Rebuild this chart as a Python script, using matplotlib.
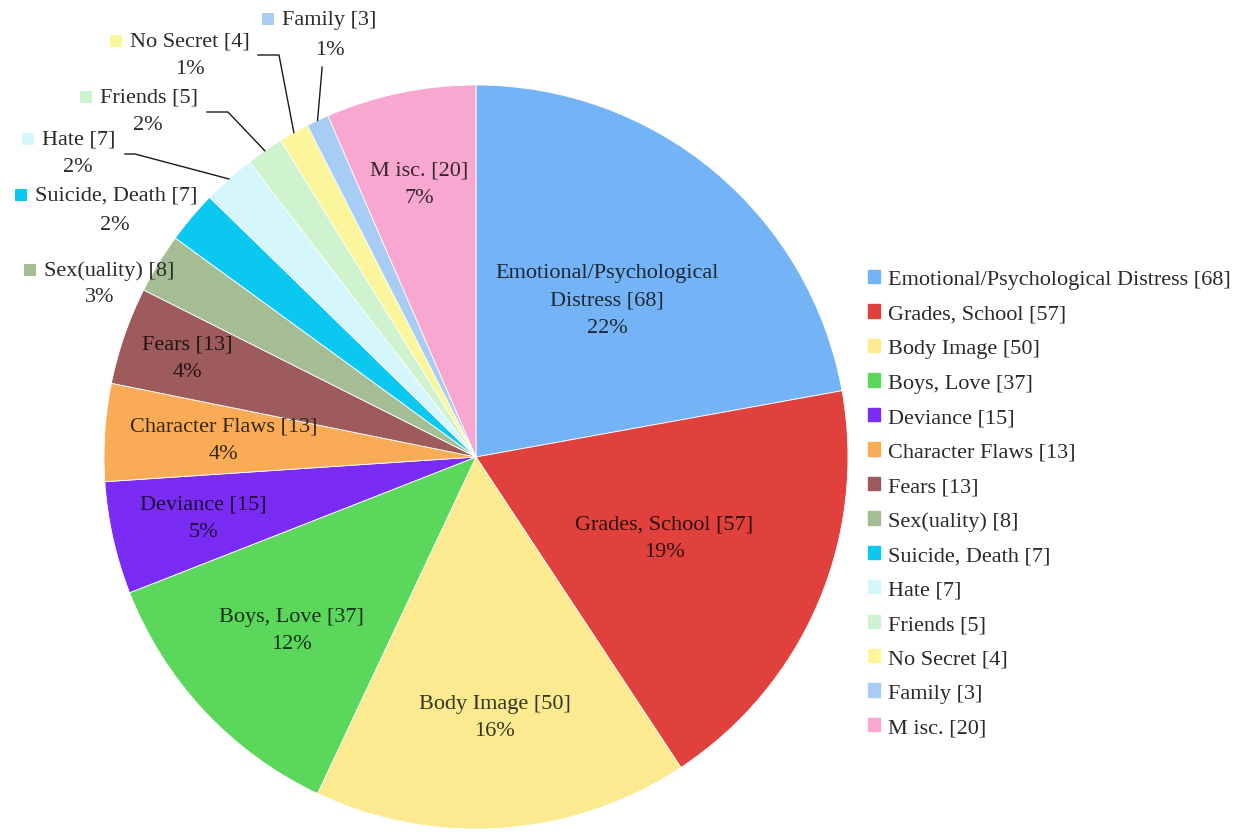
import numpy as np
import matplotlib
matplotlib.use("Agg")
import matplotlib.pyplot as plt
from matplotlib.colors import to_rgb
from matplotlib.patches import Rectangle

plt.rcParams['font.family'] = ['Liberation Serif', 'DejaVu Serif']

categories = ["Emotional/Psychological Distress", "Grades, School", "Body Image",
              "Boys, Love", "Deviance", "Character Flaws", "Fears", "Sex(uality)",
              "Suicide, Death", "Hate", "Friends", "No Secret", "Family", "Misc."]
counts = [68, 57, 50, 37, 15, 13, 13, 8, 7, 7, 5, 4, 3, 20]
colors = ["#74b4f6", "#e0413d", "#fbea8f", "#5bd85c", "#7a2cf5", "#f9ab56",
          "#9e5b5c", "#a5bd95", "#0bc8f0", "#d5f6fa", "#cff3cf", "#fbf59b",
          "#a7cdf4", "#f7a7d0"]
# display names on the slices (Excel-style text wrapping)
slice_names = ["Emotional/Psychological\nDistress", "Grades, School", "Body Image",
               "Boys, Love", "Deviance", "Character Flaws", "Fears", "Sex(uality)",
               "Suicide, Death", "Hate", "Friends", "No Secret", "Family", "M isc."]

W, H = 1241, 837
cx, cy, R = 476, 458, 372

fig = plt.figure(figsize=(W / 100, H / 100), dpi=100)
ax = fig.add_axes([0, 0, 1, 1])


def py(y):
    return H - y


def dark(c, k=0.22):
    # text on a slice looks like a very dark shade of the slice colour
    r, g, b = to_rgb(c)
    return (r * k, g * k, b * k)


wedges, _ = ax.pie(counts, colors=colors, startangle=90, counterclock=False,
                   center=(cx, py(cy)), radius=R,
                   wedgeprops=dict(edgecolor='white', linewidth=0.6))
ax.set_xlim(0, W)
ax.set_ylim(0, H)
ax.set_aspect('equal')
ax.axis('off')

total = sum(counts)
pct = [round(100 * c / total) for c in counts]
mids = [np.deg2rad((w.theta1 + w.theta2) / 2) for w in wedges]

fs = 16
txt_col = '#2a2a2a'
# labels inside the big slices: (index, fraction of radius)
inside = [(0, 0.55), (1, 0.55), (2, 0.70), (3, 0.68), (4, 0.75), (5, 0.68), (6, 0.82), (13, 0.75)]
for i, f in inside:
    x = cx + f * R * np.cos(mids[i])
    y = py(cy) + f * R * np.sin(mids[i])
    ax.text(x, y, f"{slice_names[i]} [{counts[i]}]\n{pct[i]}%", ha='center', va='center',
            fontsize=fs, color=dark(colors[i]), linespacing=1.6)

# labels outside for small slices: index -> (text left x, line1 y, pct x, pct y)
outside = {
    7: (44, 271, 100, 298),
    8: (35, 196, 115, 225),
    9: (42, 140, 78, 168),
    10: (100, 98, 148, 125),
    11: (130, 42, 190, 70),
    12: (282, 20, 330, 50),
}
for i, (tx, ty, px, ppy) in outside.items():
    ax.text(tx, py(ty), f"{slice_names[i]} [{counts[i]}]", ha='left', va='center',
            fontsize=fs, color=txt_col)
    ax.text(px, py(ppy), f"{pct[i]}%", ha='center', va='center', fontsize=fs, color=txt_col)
    ax.add_patch(Rectangle((tx - 20, py(ty) - 6), 12, 12, color=colors[i], lw=0))

# leader lines: start of line near label, then to slice edge
leaders = {
    9: [(125, 155), (135, 155)],
    10: [(207, 113), (228, 113)],
    11: [(258, 56), (279, 56)],
    12: [(322, 68), (322, 70)],
}
for i, pts in leaders.items():
    ex = cx + R * np.cos(mids[i])
    ey = py(cy) + R * np.sin(mids[i])
    xs = [p[0] for p in pts] + [ex]
    ys = [py(p[1]) for p in pts] + [ey]
    ax.plot(xs, ys, color='#1a1a1a', lw=1.0)

# legend
handles = [Rectangle((0, 0), 1, 1, color=c) for c in colors]
leg_labels = [f"{n} [{c}]" for n, c in zip(categories, counts)]
leg_labels[-1] = "M isc. [20]"
fig.legend(handles, leg_labels, loc='upper left', bbox_to_anchor=(859 / W, 1 - 262 / H),
           frameon=False, fontsize=fs, handlelength=0.55, handleheight=0.55,
           handletextpad=0.36, labelspacing=0.67, borderaxespad=0, labelcolor=txt_col)

fig.savefig("out.png", dpi=100)
